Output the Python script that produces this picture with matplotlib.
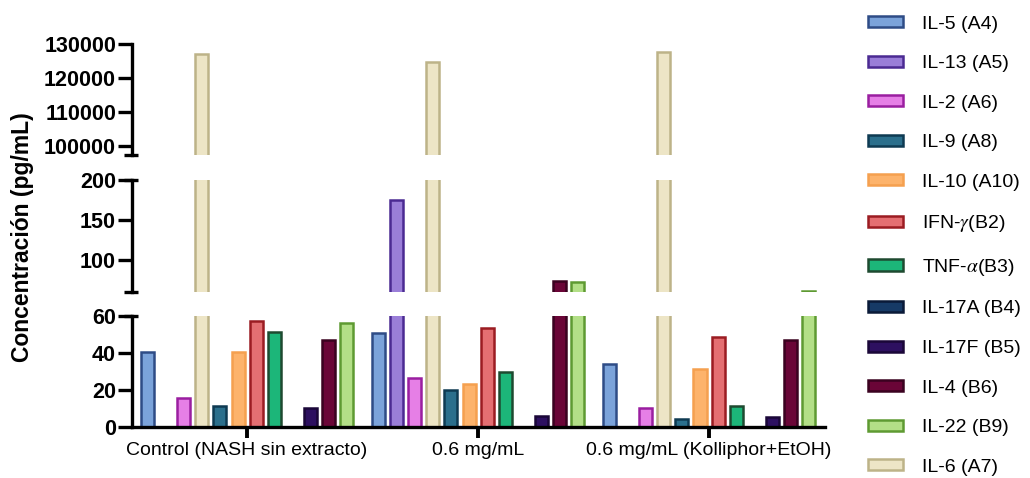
import matplotlib
matplotlib.use("Agg")
import matplotlib.pyplot as plt
import numpy as np
from matplotlib.patches import Patch

plt.rcParams['font.family'] = ['Liberation Sans', 'DejaVu Sans']
plt.rcParams['mathtext.fontset'] = 'stix'

groups = ['Control (NASH sin extracto)', '0.6 mg/mL', '0.6 mg/mL (Kolliphor+EtOH)']

# legend order
names = ['IL-5 (A4)', 'IL-13 (A5)', 'IL-2 (A6)', 'IL-9 (A8)', 'IL-10 (A10)',
         r'IFN-$\gamma$(B2)', r'TNF-$\alpha$(B3)', 'IL-17A (B4)', 'IL-17F (B5)',
         'IL-4 (B6)', 'IL-22 (B9)', 'IL-6 (A7)']

# values per group: control, 0.6 mg/mL, 0.6 mg/mL (Kolliphor+EtOH)
il5 = [40.7, 51, 34]
il13 = [0, 175, 0]
il2 = [15.6, 26.5, 10.4]
il9 = [11.5, 20, 4.3]
il10 = [40.7, 23.2, 31.5]
ifng = [57.5, 53.5, 48.6]
tnfa = [51.2, 29.7, 11.5]
il17a = [0, 0, 0]
il17f = [10.4, 6, 5.4]
il4 = [47, 74, 47]
il22 = [56.2, 72.5, 61]
il6 = [127000, 124600, 127600]

values = [il5, il13, il2, il9, il10, ifng, tnfa, il17a, il17f, il4, il22, il6]

# position of each series inside a group (IL-6 sits 4th)
slots = [0, 1, 2, 4, 5, 6, 7, 8, 9, 10, 11, 3]

fills = ['#7ba3da', '#9a7ed8', '#e67fe6', '#2b6f8c', '#fdb36b', '#e46f72',
         '#1cb679', '#163a66', '#2d1060', '#6a0537', '#b3df87', '#ede5c6']
edges = ['#2e4c86', '#4b2a92', '#9a1ea0', '#0e3a52', '#f5a04f', '#9b1c22',
         '#1e4a30', '#0a1a38', '#1a0738', '#3a0220', '#5e9a32', '#bdb388']

pitch = 12.75
bw = 0.72

fig = plt.figure(figsize=(10.3, 4.78), dpi=100)
ax_top = fig.add_axes([0.1282, 0.6757, 0.6728, 0.2322])
ax_mid = fig.add_axes([0.1282, 0.3891, 0.6728, 0.2343])
ax_bot = fig.add_axes([0.1282, 0.1067, 0.6728, 0.2322])
axes = [ax_top, ax_mid, ax_bot]

for ax in axes:
    for k in range(len(names)):
        v = np.array(values[k], dtype=float)
        x = np.arange(len(groups)) * pitch + slots[k]
        keep = v > 0
        ax.bar(x[keep], v[keep], width=bw, color=fills[k], edgecolor=edges[k],
               linewidth=1.8, align='center')
    ax.set_xlim(-0.85, 2 * pitch + 11 + 0.9)
    for s in ['top', 'right', 'bottom']:
        ax.spines[s].set_visible(False)
    ax.spines['left'].set_linewidth(2.4)
    ax.tick_params(axis='y', length=10, width=2.4, labelsize=15.5, pad=1.5)
    ax.set_xticks([])

ax_top.set_ylim(97400, 130000)
ax_top.set_yticks([100000, 110000, 120000, 130000])
ax_mid.set_ylim(60, 200)
ax_mid.set_yticks([100, 150, 200])
ax_bot.set_ylim(0, 60)
ax_bot.set_yticks([0, 20, 40, 60])

for ax in axes:
    for lab in ax.get_yticklabels():
        lab.set_fontweight('bold')

ax_bot.spines['bottom'].set_visible(True)
ax_bot.spines['bottom'].set_linewidth(2.4)
ax_bot.set_xticks(np.arange(len(groups)) * pitch + 5.5)
ax_bot.set_xticklabels(groups, fontsize=14)
ax_bot.tick_params(axis='x', length=8, width=2.8, pad=3)

# break caps on the y spine
cap = dict(color='black', linewidth=2.4, clip_on=False, solid_capstyle='butt')
ax_top.plot([-0.012, 0.009], [0, 0], transform=ax_top.transAxes, **cap)
ax_mid.plot([-0.012, 0.009], [0, 0], transform=ax_mid.transAxes, **cap)
ax_mid.plot([-0.012, 0.009], [1, 1], transform=ax_mid.transAxes, **cap)
ax_bot.plot([-0.012, 0.009], [1, 1], transform=ax_bot.transAxes, **cap)

fig.text(0.022, 0.504, 'Concentración (pg/mL)', rotation=90, ha='center',
         va='center', fontsize=16.5, fontweight='bold')

handles = [Patch(facecolor=fills[k], edgecolor=edges[k], linewidth=1.8)
           for k in range(len(names))]
fig.legend(handles, names, loc='upper left', bbox_to_anchor=(0.826, 1.004),
           frameon=False, fontsize=14, handlelength=1.8, handleheight=0.5,
           handletextpad=0.95, labelspacing=1.16)

fig.savefig('out.png', dpi=100)
